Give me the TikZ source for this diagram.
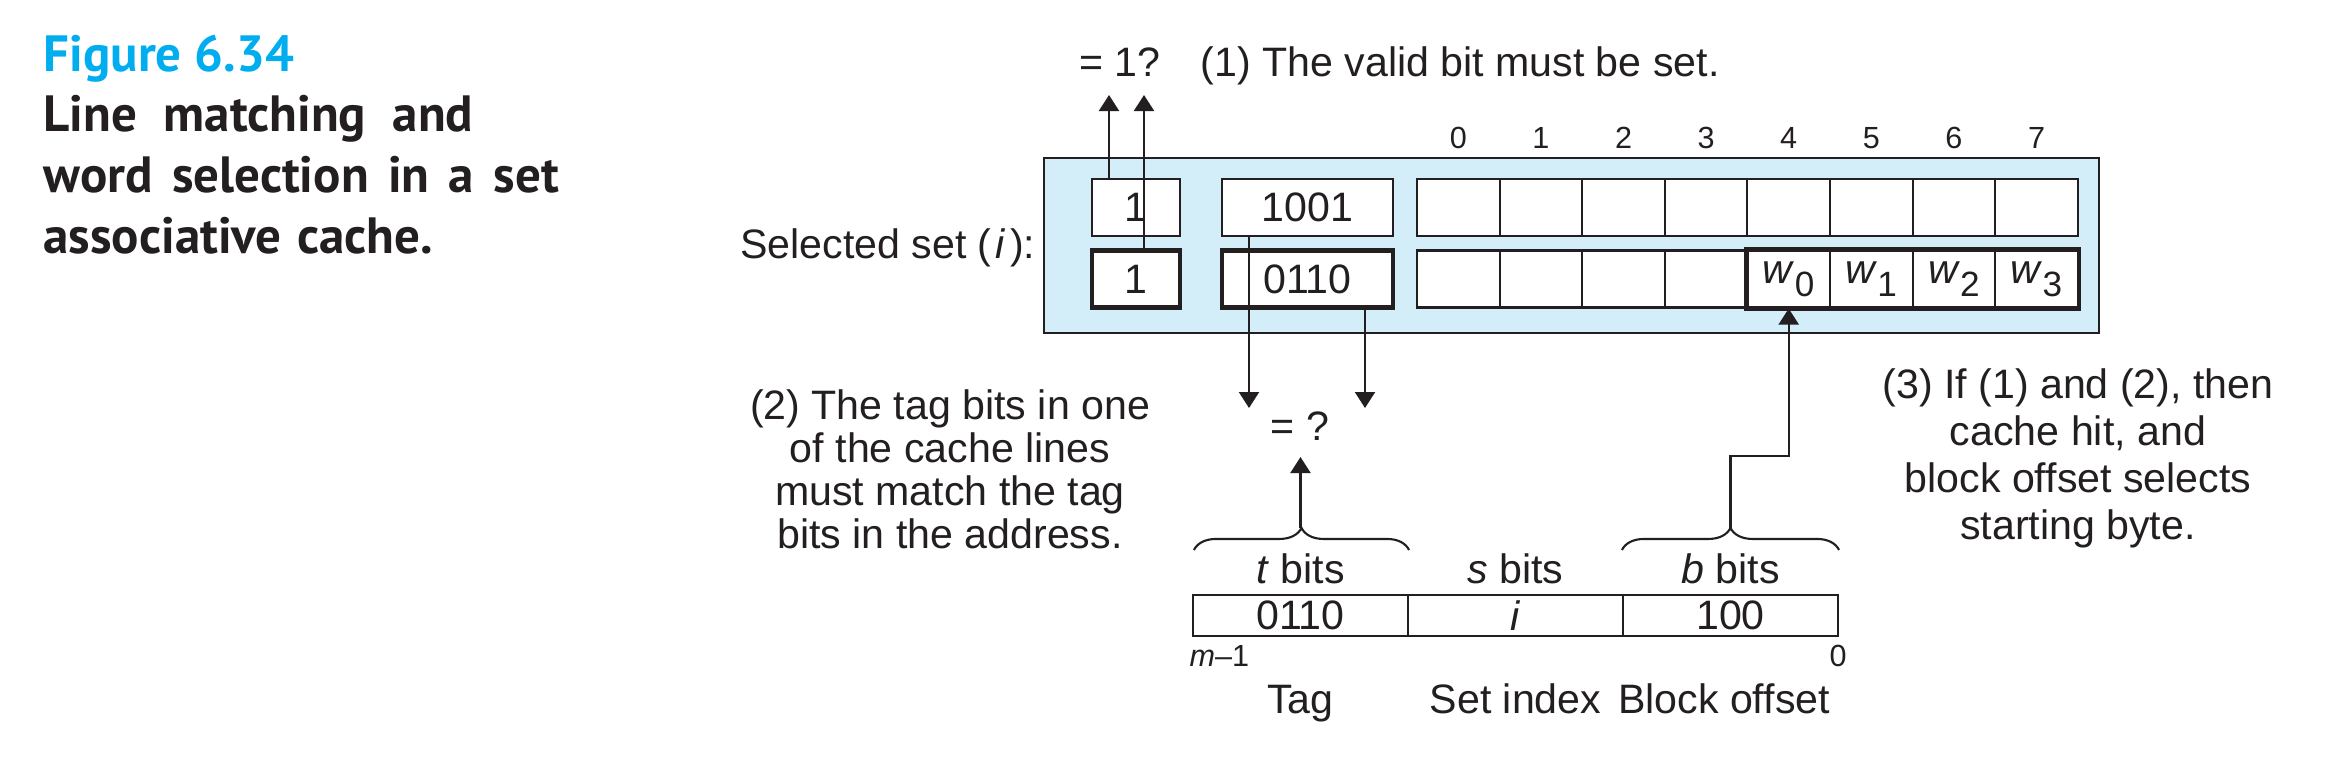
\documentclass[tikz,border=0pt]{standalone}
\usepackage{fontspec}
\setmainfont{Liberation Sans}
\newfontfamily\capfont{PT Sans}
\usetikzlibrary{calc,arrows.meta,decorations.pathreplacing}

\definecolor{setblue}{RGB}{211,237,249}
\definecolor{figcyan}{RGB}{0,174,239}
\definecolor{ink}{RGB}{35,31,32}

% word w_k inside a cache line
\newcommand{\wsub}[1]{\textit{w}\raisebox{-0.6ex}{\fontsize{10}{10}\selectfont #1}}

\begin{document}
\begin{tikzpicture}[x=0.1mm, y=-0.1mm, color=ink,
    font=\fontsize{11.7}{13}\selectfont,
    cell/.style={draw=ink, fill=white, line width=0.6pt, minimum width=8.26mm,
                 minimum height=5.7mm, inner sep=0pt},
    thickcell/.style={cell, line width=1.3pt},
    field/.style={draw=ink, line width=0.6pt, minimum width=21.5mm,
                  minimum height=4.1mm, inner sep=0pt},
    arr/.style={-{Triangle[length=1.6mm, width=2mm]}, line width=0.6pt},
    brc/.style={decorate, decoration={brace, amplitude=2.2mm}, line width=0.6pt},
    small/.style={font=\fontsize{8.7}{10}\selectfont}]

    \useasboundingbox (0,0) rectangle (2326,772);
    \fill[white] (0,0) rectangle (2326,772);

    % caption
    \node[anchor=base west, inner sep=0, text=figcyan,
          font=\capfont\bfseries\fontsize{14.5}{17}\selectfont] (fig) at (43,71) {Figure 6.34};
    \foreach \ln/\sp [count=\k] in {Line matching and/0.52em, word selection in a set/0.38em,
                                     associative cache./0.3em}{
      \node[anchor=base west, inner sep=0,
            font=\capfont\bfseries\fontsize{14.5}{17}\selectfont] (cap\k) at (43,71+60.7*\k)
        {\spaceskip=\sp\relax\ln};
    }

    % the selected set
    \node[fill=setblue, draw=ink, line width=0.6pt, minimum width=105.5mm,
          minimum height=17.5mm, inner sep=0] (set) at (1571.5,245.5) {};
    \node[anchor=base east, inner sep=0] (setlbl) at (1036,258) {Selected set (\kern1.2pt\textit{i}\kern1.2pt):};

    \node[cell, minimum width=8.8mm] (v1) at (1136,207.5) {1};
    \node[thickcell, minimum width=8.8mm] (v2) at (1136,279) {1};
    \node[cell, minimum width=17.1mm] (t1) at (1307.5,207.5) {1001};
    \node[thickcell, minimum width=17.1mm] (t2) at (1307.5,279) {0110};

    \foreach \k/\txt in {0/,1/,2/,3/,4/\wsub{0},5/\wsub{1},6/\wsub{2},7/\wsub{3}}{
      \node[small, anchor=base] (n\k) at (1458.3+82.6*\k,148) {\k};
      \node[cell] (a\k) at (1458.3+82.6*\k,207.5) {};
      \node[cell] (b\k) at (1458.3+82.6*\k,279) {\txt};
    }
    \draw[line width=1.3pt] (b4.north west) rectangle (b7.south east);

    % (1) valid bit
    \coordinate (q1) at (1109,95);
    \coordinate (q2) at (1144,95);
    \draw[arr] (v1.north -| q1) -- (q1);
    \draw[arr] (v2.north -| q2) -- (q2);
    \node[anchor=base] (eq1) at (1120,76) {= 1?};
    \node[anchor=base west, inner sep=0] (rule1) at (1200,76) {(1) The valid bit must be set.};

    % (2) tag match
    \coordinate (d1) at (1249,408);
    \coordinate (d2) at (1365,408);
    \draw[arr] (t1.south -| d1) -- (d1);
    \draw[arr] (t2.south -| d2) -- (d2);
    \node[anchor=base] (eq2) at (1300,440) {= ?};
    \node[align=center, anchor=north, inner sep=0, font=\fontsize{11.7}{12.2}\selectfont] (rule2) at (950,389)
      {(2) The tag bits in one\\of the cache lines\\must match the tag\\bits in the address.};

    % address
    \foreach \k/\txt in {0/0110,1/\textit{i},2/100}{
      \node[field] (f\k) at (1300.5+215*\k,615.5) {\txt};
    }
    \node[anchor=base] (tbits) at (1300.5,583) {\textit{t} bits};
    \node[anchor=base] (sbits) at (1515.5,583) {\textit{s} bits};
    \node[anchor=base] (bbits) at (1730.5,583) {\textit{b} bits};
    \draw[brc] ($(f0.north west)+(2,-44)$) -- ($(f0.north east)+(0,-44)$);
    \draw[brc] ($(f2.north west)+(0,-44)$) -- ($(f2.north east)+(0,-44)$);
    \coordinate (tt) at ($(f0.north)+(0,-66)$);
    \coordinate (bt) at ($(f2.north)+(0,-66)$);
    \draw[arr] (tt) -- (tt |- 0,457);
    \draw[arr] (bt) -- ++(0,-72) -| (b4.south);

    \node[small, anchor=base west, inner sep=0] (msb) at (1189,666) {\textit{m}–1};
    \node[small, anchor=base] (lsb) at (1838,666) {0};
    \node[anchor=base] (tag) at (1300.5,713) {Tag};
    \node[anchor=base] (idx) at (1515.5,713) {Set index};
    \node[anchor=base] (off) at (1724,713) {Block offset};

    % (3) hit
    \node[align=center, anchor=north, inner sep=0, font=\fontsize{11.7}{13.4}\selectfont] (rule3) at (2078,368)
      {(3) If (1) and (2), then\\cache hit, and\\block offset selects\\starting byte.};
  \end{tikzpicture}
\end{document}
